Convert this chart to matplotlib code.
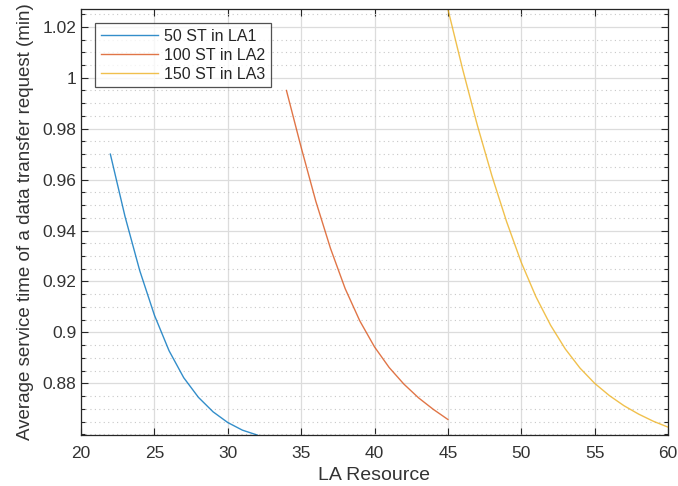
import matplotlib
matplotlib.use("Agg")
import matplotlib.pyplot as plt
from matplotlib.ticker import MultipleLocator

plt.rcParams['font.family'] = ['Liberation Sans', 'DejaVu Sans']

# Data
x_la1 = [22, 23, 24, 25, 26, 27, 28, 29, 30, 31, 32]
y_la1 = [0.970, 0.9455, 0.9243, 0.9068, 0.8928, 0.8822, 0.8745, 0.8688, 0.8646, 0.8616, 0.8597]

x_la2 = [34, 35, 36, 37, 38, 39, 40, 41, 42, 43, 44, 45]
y_la2 = [0.995, 0.9727, 0.9515, 0.9330, 0.9172, 0.9045, 0.8943, 0.8862, 0.8797, 0.8743, 0.8698, 0.8658]

x_la3 = [45, 46, 47, 48, 49, 50, 51, 52, 53, 54, 55, 56, 57, 58, 59, 60]
y_la3 = [1.027, 1.0035, 0.9815, 0.9615, 0.9435, 0.9275, 0.9140, 0.9028, 0.8935, 0.8860, 0.8800,
         0.8752, 0.8712, 0.8679, 0.8651, 0.8628]

labels = ["50 ST in LA1", "100 ST in LA2", "150 ST in LA3"]
colors = ["#0072BD", "#D95319", "#EDB120"]

xticks = [20, 25, 30, 35, 40, 45, 50, 55, 60]
yticks = [0.88, 0.90, 0.92, 0.94, 0.96, 0.98, 1.00, 1.02]
yticklabels = ["0.88", "0.9", "0.92", "0.94", "0.96", "0.98", "1", "1.02"]

fig = plt.figure(figsize=(6.78, 4.86), dpi=100)
ax = fig.add_axes([81/678, 1 - 435/486, (668-81)/678, (435-9)/486])

for xs, ys, c, lab in zip([x_la1, x_la2, x_la3], [y_la1, y_la2, y_la3], colors, labels):
    ax.plot(xs, ys, color=c, lw=1.0, label=lab, alpha=0.8)

ax.set_xlim(20, 60)
ax.set_ylim(0.8597, 1.027)
ax.set_xticks(xticks)
ax.set_yticks(yticks)
ax.set_yticklabels(yticklabels)
ax.yaxis.set_minor_locator(MultipleLocator(0.005))

ax.grid(True, which='major', color='#dcdcdc', lw=0.9)
ax.grid(True, which='minor', axis='y', color='#c8c8c8', lw=0.8, linestyle=(0, (1, 3)))
ax.set_axisbelow(True)

ax.tick_params(which='both', direction='in', top=True, right=True, colors='#262626',
               labelcolor='#333333', labelsize=12.5, width=0.8)
ax.tick_params(which='major', length=5)
ax.tick_params(which='minor', length=3)
ax.tick_params(axis='x', pad=8)
for s in ax.spines.values():
    s.set_color('#262626')
    s.set_linewidth(0.9)

ax.set_xlabel("LA Resource", fontsize=14, color='#333333', labelpad=4)
ax.set_ylabel("Average service time of a data transfer request (min)", fontsize=13.5, color='#333333', labelpad=6)

leg = ax.legend(loc='upper left', bbox_to_anchor=(14/587, 1 - 14/426), borderaxespad=0,
                fontsize=11.5, frameon=True, fancybox=False, handlelength=3.6,
                handletextpad=0.35, labelspacing=0.25, borderpad=0.35)
leg.get_frame().set_edgecolor('#262626')
leg.get_frame().set_linewidth(0.9)
for t in leg.get_texts():
    t.set_color('#262626')

fig.savefig("out.png", dpi=100)
